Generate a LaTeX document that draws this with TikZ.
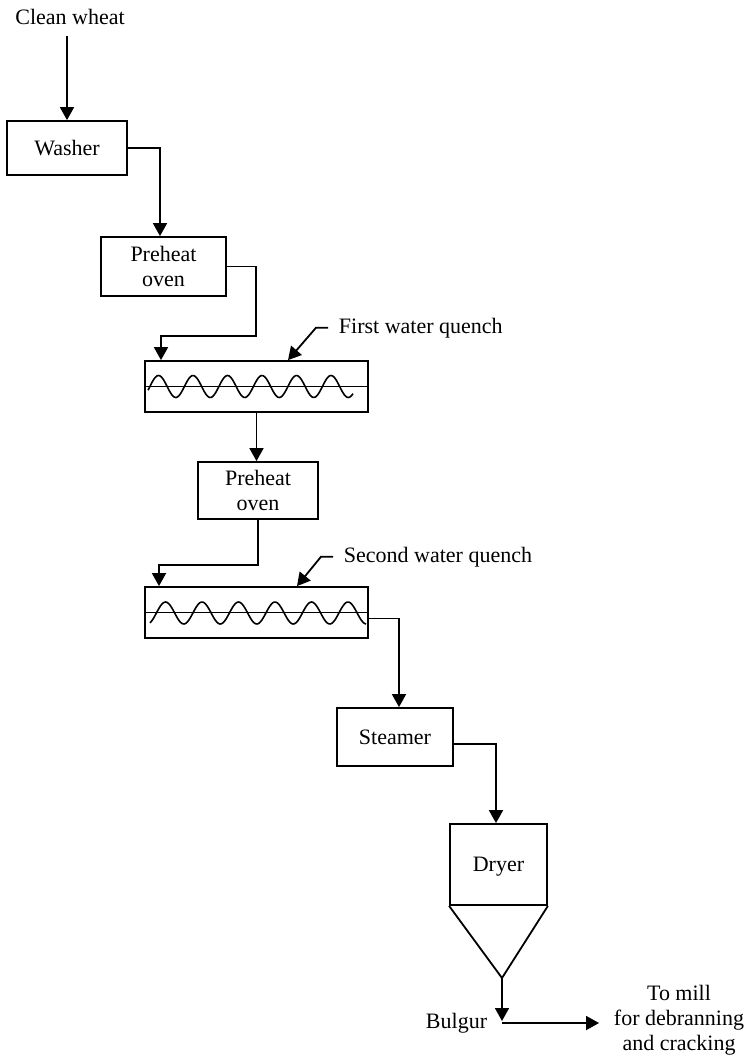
\documentclass[tikz,border=0pt]{standalone}
\usepackage{fontspec}
\setmainfont{Liberation Serif}
\usetikzlibrary{arrows.meta,calc}
\begin{document}
\begin{tikzpicture}[x=1pt,y=-1pt,
  font=\fontsize{22}{25}\selectfont,
  line width=1.8pt,
  unit/.style={draw, rectangle, inner sep=0pt, align=center},
  flow/.style={-{Triangle[length=13pt,width=14pt]}},
  wave/.style={line width=1.6pt, smooth},
  tag/.style={inner sep=0pt}]
\useasboundingbox (0,0) rectangle (747,1055);

% process units
\node[tag, anchor=base, inner ysep=11pt] (cw) at (70,24) {Clean wheat};
\node[unit, minimum width=120pt, minimum height=54pt] (washer) at (67,148) {Washer};
\node[unit, minimum width=125pt, minimum height=59pt] (pre1) at (163.5,266.5) {Preheat\\oven};
\node[unit, minimum width=223pt, minimum height=51pt] (q1) at (256.5,386.5) {};
\node[unit, minimum width=120pt, minimum height=57pt] (pre2) at (258,490.5) {Preheat\\oven};
\node[unit, minimum width=223pt, minimum height=51pt] (q2) at (256.5,612.5) {};
\node[unit, minimum width=116pt, minimum height=58pt] (steam) at (395,737) {Steamer};
\node[unit, minimum width=97pt, minimum height=81pt, text depth=0pt] (dryer) at (498.5,864.5) {Dryer};

% dryer hopper cone
\coordinate (apex) at (502,978);
\draw (dryer.south west) -- (apex) -- (dryer.south east);

% quench troughs: water line and screw conveyor
\draw[line width=1.6pt] (q1.west) -- (q1.east);
\draw[wave] plot[domain=148:353, samples=140] (\x, {386.5 - 11*sin((\x-184.4)*10.4348)});
\draw[line width=1.6pt] (q2.west) -- (q2.east);
\draw[wave] plot[domain=150:366, samples=140] (\x, {613 - 11*sin((\x-192.9)*9.863)});

% callouts
\node[anchor=base west, inner xsep=10pt, inner ysep=0pt] (fq) at (328,333) {First water quench};
\draw[flow] (fq.west) -- ++(-12,0) -- ([xshift=31.5pt]q1.north);
\node[anchor=base west, inner xsep=10pt, inner ysep=0pt] (sq) at (333,562) {Second water quench};
\draw[flow] (sq.west) -- ++(-12,0) -- ([xshift=40.5pt]q2.north);

% product flow
\draw[flow] (cw.south -| washer.north) -- (washer.north);
\draw[flow] (washer.east) -| ([xshift=-3.5pt]pre1.north);
\coordinate (j1) at (256,336);
\draw[flow] (pre1.east) -| (j1) -| ([xshift=-95.5pt]q1.north);
\draw[flow] (q1.south) -- (q1.south |- pre2.north);
\coordinate (j2) at (159,565);
\draw[flow] (pre2.south) |- (j2) -- (j2 |- q2.north);
\draw[flow] ([yshift=-6pt]q2.east) -| ([xshift=4pt]steam.north);
\draw[flow] ([yshift=-7pt]steam.east) -| ([xshift=-2.5pt]dryer.north);

% discharge
\coordinate (bulgur) at (502,1023);
\node[tag, anchor=base east] (bul) at (488,1028) {Bulgur};
\node[align=center, inner xsep=14pt, inner ysep=0pt] (mill) at (679,1020) {To mill\\for debranning\\and cracking};
\draw[flow] (apex) -- ([yshift=2pt]bulgur);
\draw[flow] (bulgur) -- (bulgur -| mill.west);
\end{tikzpicture}
\end{document}
